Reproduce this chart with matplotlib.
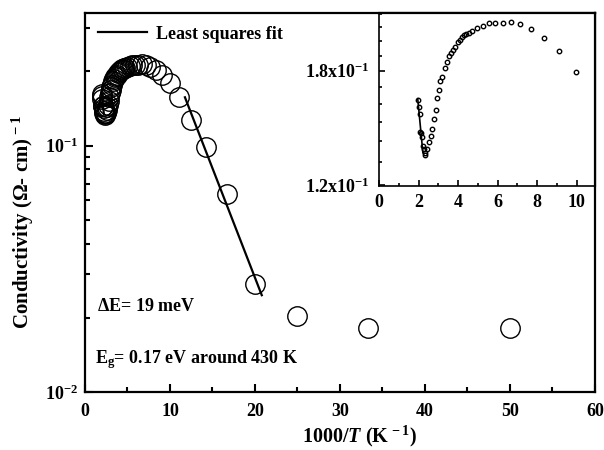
import numpy as np
import matplotlib
matplotlib.use("Agg")
import matplotlib.pyplot as plt
from matplotlib.ticker import FixedLocator, NullFormatter, MultipleLocator, LogLocator

plt.rcParams['font.family'] = ['Liberation Serif', 'DejaVu Serif']
plt.rcParams['font.weight'] = 'bold'
plt.rcParams['mathtext.fontset'] = 'custom'
plt.rcParams['mathtext.rm'] = 'Liberation Serif:bold'
plt.rcParams['mathtext.it'] = 'Liberation Serif:bold:italic'
plt.rcParams['mathtext.bf'] = 'Liberation Serif:bold'

# 1000/T and conductivity, high temperature region
inv_t_low = [1.96, 2.01, 2.06, 2.09, 2.14, 2.18, 2.23, 2.26, 2.31, 2.35,
             2.43, 2.55, 2.64, 2.70, 2.77, 2.86, 2.94, 3.03, 3.11, 3.21,
             3.32, 3.44, 3.54, 3.62, 3.74, 3.84, 3.98, 4.08, 4.18, 4.30,
             4.42, 4.54, 4.73, 4.98, 5.24, 5.56, 5.88, 6.26, 6.68, 7.14,
             7.70, 8.33, 9.10, 9.98]
sigma_low = [0.1621, 0.1584, 0.1541, 0.1449, 0.1445, 0.1420, 0.1379, 0.1362, 0.1343, 0.1333,
             0.1362, 0.1395, 0.1428, 0.1462, 0.1518, 0.1568, 0.1634, 0.1683, 0.1734, 0.1760,
             0.1821, 0.1860, 0.1900, 0.1916, 0.1939, 0.1962, 0.1996, 0.2008, 0.2028, 0.2044,
             0.2052, 0.2057, 0.2073, 0.2093, 0.2110, 0.2130, 0.2133, 0.2133, 0.2142, 0.2125,
             0.2085, 0.2023, 0.1932, 0.1792]

# low temperature points (main plot only)
inv_t_high = [11.1, 12.5, 14.29, 16.67, 20.0, 25.0, 33.3, 50.0]
sigma_high = [0.157, 0.127, 0.0984, 0.0637, 0.0275, 0.0203, 0.0181, 0.0181]

# least squares fit lines (endpoints)
fit_main_x = [11.76, 20.8]
fit_main_y = [0.157, 0.0247]
fit_hot_x = [1.96, 2.22]
fit_hot_y = [0.163, 0.1345]

main_x = inv_t_low + inv_t_high
main_y = sigma_low + sigma_high

fig = plt.figure(figsize=(6.04, 4.5), dpi=100)
ax = fig.add_axes([0.1407, 0.129, 0.8443, 0.842])

ax.plot(main_x, main_y, 'o', ms=14, mfc='none', mec='black', mew=1.0, zorder=2)
ax.plot(fit_main_x, fit_main_y, '-', color='black', lw=1.6, label='Least squares fit', zorder=3)
ax.plot(fit_hot_x, fit_hot_y, '-', color='black', lw=1.6, zorder=3)

ax.set_yscale('log')
ax.set_xlim(0, 60)
ax.set_ylim(0.01, 0.345)
ax.xaxis.set_major_locator(MultipleLocator(10))
ax.xaxis.set_minor_locator(MultipleLocator(5))
ax.yaxis.set_major_locator(LogLocator(base=10, numticks=10))
ax.yaxis.set_minor_locator(LogLocator(base=10, subs=np.arange(2, 10), numticks=10))
ax.yaxis.set_minor_formatter(NullFormatter())
ax.tick_params(which='both', direction='in', top=False, right=False, labelsize=13, width=1.5)
ax.tick_params(which='major', length=6)
ax.tick_params(which='minor', length=3.5)
ax.tick_params(axis='x', which='both', pad=8)
ax.tick_params(axis='y', which='both', pad=5)
for s in ax.spines.values():
    s.set_linewidth(1.6)

ax.set_xlabel('1000/$T$ (K$^{\\,-1}$)', fontsize=14.5, fontweight='bold', va='top')
ax.xaxis.set_label_coords(0.539, -0.083)
ax.set_ylabel('Conductivity ($\\Omega$- cm)$^{\\,-1}$', fontsize=15, fontweight='bold')
ax.yaxis.set_label_coords(-0.097, 0.45)

ax.legend(loc='upper left', frameon=False, fontsize=13, handlelength=2.75,
          borderaxespad=0.3, handletextpad=0.5)

ax.text(0.023, 0.225, '$\\Delta$E= 19 meV', transform=ax.transAxes, fontsize=13,
        fontweight='bold', va='center')
ax.text(0.020, 0.085, 'E$_\\mathregular{g}$= 0.17 eV around 430 K', transform=ax.transAxes,
        fontsize=13, fontweight='bold', va='center')

# inset
ins = fig.add_axes([0.6275, 0.5867, 0.3575, 0.3843])
ins.plot(inv_t_low, sigma_low, 'o', ms=3.2, mfc='none', mec='black', mew=1.0)
ins.plot(fit_hot_x, fit_hot_y, '-', color='black', lw=1.2)
ins.set_yscale('log')
ins.set_xlim(0, 10.93)
ins.set_ylim(0.1195, 0.221)
ins.xaxis.set_major_locator(MultipleLocator(2))
ins.xaxis.set_minor_locator(MultipleLocator(1))
ins.yaxis.set_major_locator(FixedLocator([0.12, 0.18]))
ins.yaxis.set_minor_locator(FixedLocator([0.13, 0.14, 0.15, 0.16, 0.17, 0.19, 0.20, 0.21, 0.22]))
ins.yaxis.set_minor_formatter(NullFormatter())
ins.set_yticklabels(['1.2x10$^{-1}$', '1.8x10$^{-1}$'])
ins.tick_params(which='both', direction='in', top=False, right=False, labelsize=13, width=1.2)
ins.tick_params(which='major', length=4)
ins.tick_params(which='minor', length=2.5)
ins.tick_params(axis='x', which='both', pad=6)
ins.tick_params(axis='y', which='both', pad=7)
for s in ins.spines.values():
    s.set_linewidth(1.2)
ins.spines['right'].set_linewidth(1.6)
ins.spines['top'].set_linewidth(1.6)

fig.savefig('out.png', dpi=100)
